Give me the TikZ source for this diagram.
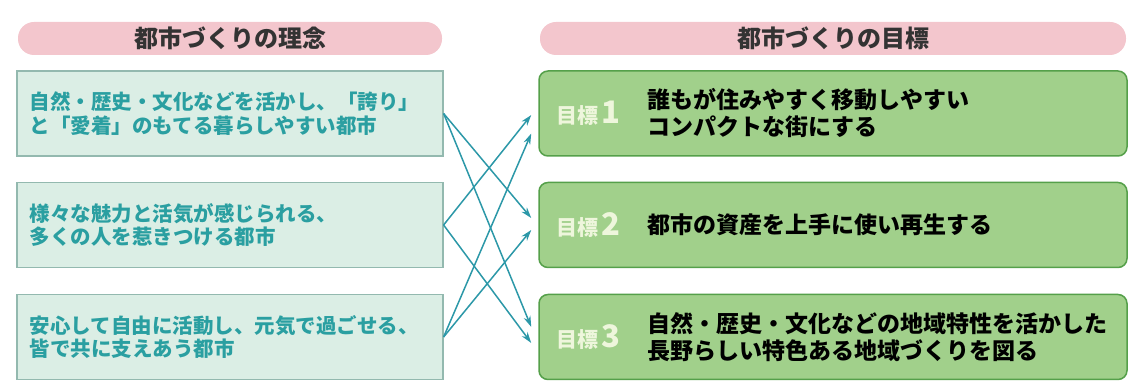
\documentclass[tikz,border=0pt]{standalone}
\usepackage{fontspec}
\setmainfont{Noto Sans CJK JP}
\usetikzlibrary{arrows.meta}

\definecolor{pillPink}{HTML}{F3C6CD}
\definecolor{ideaFill}{HTML}{DBEEE5}
\definecolor{ideaLine}{HTML}{93B9AF}
\definecolor{ideaText}{HTML}{2A9FA1}
\definecolor{goalFill}{HTML}{A1D08B}
\definecolor{goalLine}{HTML}{55A04A}
\definecolor{goalMark}{HTML}{EEF6DC}
\definecolor{linkTeal}{HTML}{2C98A8}

\tikzset{
  pill/.style={fill=pillPink, rounded corners=16pt, minimum height=33pt,
    text=black!80, font=\fontsize{24}{24}\selectfont\bfseries},
  ideabox/.style={fill=ideaFill, draw=ideaLine, line width=1.2pt,
    minimum width=426pt, minimum height=85pt, text width=400pt,
    inner xsep=13pt, align=left, text=ideaText,
    font=\fontsize{20.5}{23.5}\selectfont\bfseries},
  goalbox/.style={fill=goalFill, draw=goalLine, line width=1.5pt,
    rounded corners=9pt, minimum width=588pt, minimum height=85pt},
  goalmark/.style={inner sep=0pt, text=goalMark,
    font=\fontsize{21}{21}\selectfont\bfseries},
  goaltext/.style={inner sep=0pt, align=left, text=black,
    font=\fontsize{23}{27}\selectfont\bfseries},
  link/.style={draw=linkTeal, line width=1.5pt,
    -{Stealth[length=11pt,width=7pt]}}
}

\newcommand{\goalNum}[1]{{\fontsize{31}{31}\selectfont #1}}

\begin{document}
\begin{tikzpicture}[x=1pt,y=-1pt]
\useasboundingbox (0,0) rectangle (1136,387);

%Headers
	\node[pill, minimum width=424pt] (head1) at (230,38.5) {都市づくりの理念};
	\node[pill, minimum width=586pt] (head2) at (833,38.5) {都市づくりの目標};

%Ideas
	\node[ideabox] (idea1) at (230,113.5) {自然・歴史・文化などを活かし、「誇り」\\と「愛着」のもてる暮らしやすい都市};
	\node[ideabox] (idea2) at (230,225) {様々な魅力と活気が感じられる、\\多くの人を惹きつける都市};
	\node[ideabox] (idea3) at (230,337) {安心して自由に活動し、元気で過ごせる、\\皆で共に支えあう都市};

%Goals
	\node[goalbox] (goal1) at (833,113.5) {};
	\node[goalbox] (goal2) at (833,225) {};
	\node[goalbox] (goal3) at (833,337) {};

	\foreach \i in {1,2,3}
	{
		\node[goalmark, anchor=west] (mark\i) at ([xshift=18pt]goal\i.west) {目標\,\goalNum{\i}};
	}

	\node[goaltext, anchor=west] (text1) at ([xshift=109pt]goal1.west) {誰もが住みやすく移動しやすい\\コンパクトな街にする};
	\node[goaltext, anchor=west] (text2) at ([xshift=109pt]goal2.west) {都市の資産を上手に使い再生する};
	\node[goaltext, anchor=west] (text3) at ([xshift=109pt]goal3.west) {自然・歴史・文化などの地域特性を活かした\\長野らしい特色ある地域づくりを図る};

% Links from ideas to goals
	\foreach \a/\b/\s in {1/2/7,1/3/10,2/1/-1.5,2/3/-6,3/1/-20,3/2/-5}
	{
		\draw[link] (idea\a.east) -- ([xshift=-7pt,yshift=\s pt]goal\b.west);
	}

\end{tikzpicture}
\end{document}
